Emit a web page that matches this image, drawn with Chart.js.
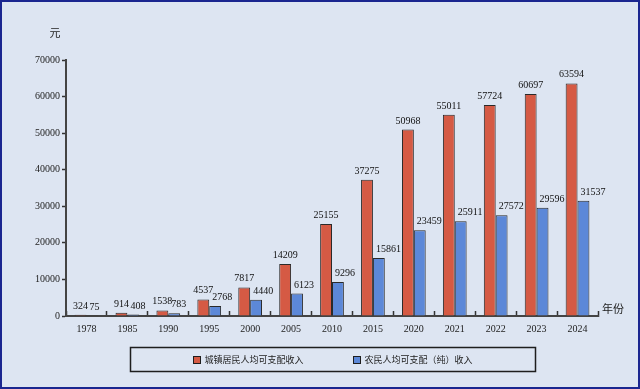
<!DOCTYPE html>
<html>
<head>
<meta charset="utf-8">
<script src="https://cdn.jsdelivr.net/npm/chart.js@4/dist/chart.umd.min.js"></script>
<style>
	html, body { margin: 0; padding: 0; background: #dde5f2; }
	#wrap { width: 640px; height: 389px; position: relative; }
</style>
</head>
<body>
<div id="wrap"><canvas id="chart"></canvas></div>
<script>
// data
var years = ['1978', '1985', '1990', '1995', '2000', '2005', '2010', '2015', '2020', '2021', '2022', '2023', '2024'];
var urbanIncome = [324, 914, 1538, 4537, 7817, 14209, 25155, 37275, 50968, 55011, 57724, 60697, 63594];
var ruralIncome = [75, 408, 783, 2768, 4440, 6123, 9296, 15861, 23459, 25911, 27572, 29596, 31537];
var seriesNames = ['城镇居民人均可支配收入', '农民人均可支配（纯）收入'];
var yMin = 0, yMax = 70000, yStep = 10000;
var yUnit = '元', xUnit = '年份';

var numFont = '"Liberation Serif", "Times New Roman", serif';
var cjkFont = '"Noto Sans CJK SC", sans-serif';

var frameAndBg = {
	id: 'frameAndBg',
	beforeDraw: function(chart) {
		var ctx = chart.ctx;
		ctx.save();
		ctx.fillStyle = '#dde5f2';
		ctx.fillRect(0, 0, chart.width, chart.height);
		ctx.restore();
	},
	afterDraw: function(chart) {
		var ctx = chart.ctx, area = chart.chartArea;
		ctx.save();
		// outer frame
		ctx.strokeStyle = '#1a2690';
		ctx.lineWidth = 2;
		ctx.strokeRect(1, 1, chart.width - 2, chart.height - 2);

		// unit labels
		ctx.fillStyle = '#222';
		ctx.font = '11px ' + cjkFont;
		ctx.textAlign = 'center';
		ctx.textBaseline = 'middle';
		ctx.fillText(yUnit, area.left - 11, 33);
		ctx.fillText(xUnit, area.right + 15, area.bottom - 7);

		// hand-drawn legend in a box, centred under the plot area
		var sets = chart.data.datasets;
		var boxSize = 7, boxGap = 4, itemGap = 50;
		ctx.font = '9px ' + cjkFont;
		var widths = sets.map(function(ds) { return boxSize + boxGap + ctx.measureText(ds.label).width; });
		var total = widths.reduce(function(a, b) { return a + b; }, 0) + itemGap * (sets.length - 1);
		var x = (area.left + area.right) / 2 - total / 2 + 1;
		var cy = 359;
		var start = x;
		ctx.textAlign = 'left';
		ctx.textBaseline = 'middle';
		sets.forEach(function(ds, i) {
			ctx.fillStyle = ds.backgroundColor;
			ctx.fillRect(Math.round(x) + 0.5, Math.round(cy - boxSize / 2) + 0.5, boxSize, boxSize);
			ctx.strokeStyle = '#1e1e1e';
			ctx.lineWidth = 1;
			ctx.strokeRect(Math.round(x) + 0.5, Math.round(cy - boxSize / 2) + 0.5, boxSize, boxSize);
			ctx.fillStyle = '#222';
			ctx.fillText(ds.label, x + boxSize + boxGap, cy + 0.5);
			x += widths[i] + itemGap;
		});
		var end = x - itemGap;
		ctx.strokeStyle = '#1e1e1e';
		ctx.lineWidth = 1.5;
		ctx.strokeRect(Math.round(start - 63) + 0.5, Math.round(cy - 12) + 0.5, Math.round(end - start + 126), 24);
		ctx.restore();
	}
};

var valueLabels = {
	id: 'valueLabels',
	afterDatasetsDraw: function(chart) {
		var ctx = chart.ctx;
		ctx.save();
		ctx.fillStyle = '#111';
		ctx.font = '10px ' + numFont;
		ctx.textBaseline = 'alphabetic';
		chart.data.datasets.forEach(function(ds, di) {
			var meta = chart.getDatasetMeta(di);
			meta.data.forEach(function(bar, i) {
				var txt = String(ds.data[i]);
				if (di === 0) {
					ctx.textAlign = 'center';
					ctx.fillText(txt, bar.x, bar.y - 6);
				} else {
					ctx.textAlign = 'left';
					ctx.fillText(txt, bar.x - bar.width / 2 + 3, bar.y - 6);
				}
			});
		});
		ctx.restore();
	}
};

new Chart(document.getElementById('chart'), {
	type: 'bar',
	data: {
		labels: years,
		datasets: [
			{
				label: seriesNames[0],
				data: urbanIncome,
				backgroundColor: '#d55a44',
				borderColor: '#2a2a2a',
				borderWidth: 1,
				categoryPercentage: 0.58,
				barPercentage: 1.0
			},
			{
				label: seriesNames[1],
				data: ruralIncome,
				backgroundColor: '#5c88d8',
				borderColor: '#2a2a2a',
				borderWidth: 1,
				categoryPercentage: 0.58,
				barPercentage: 1.0
			}
		]
	},
	options: {
		responsive: true,
		maintainAspectRatio: false,
		animation: false,
		events: [],
		layout: {
			padding: { top: 60, right: 42, bottom: 44, left: 0 }
		},
		plugins: {
			tooltip: { enabled: false },
			legend: { display: false }
		},
		scales: {
			x: {
				grid: {
					display: true,
					drawOnChartArea: false,
					drawTicks: true,
					tickLength: -5,
					color: '#333',
					tickWidth: 1.5
				},
				border: { color: '#444', width: 2 },
				ticks: {
					font: { family: numFont, size: 10 },
					color: '#222',
					padding: 12,
					maxRotation: 0
				},
				afterFit: function(scale) { scale.height = 29; }
			},
			y: {
				min: yMin,
				max: yMax,
				grid: {
					display: true,
					drawOnChartArea: false,
					drawTicks: true,
					tickLength: 4,
					color: '#333',
					tickWidth: 1.5
				},
				border: { color: '#444', width: 2 },
				ticks: {
					stepSize: yStep,
					font: { family: numFont, size: 10 },
					color: '#222',
					padding: 2,
					callback: function(v) { return String(v); }
				},
				afterFit: function(scale) { scale.width = 66; }
			}
		}
	},
	plugins: [frameAndBg, valueLabels]
});
</script>
</body>
</html>
